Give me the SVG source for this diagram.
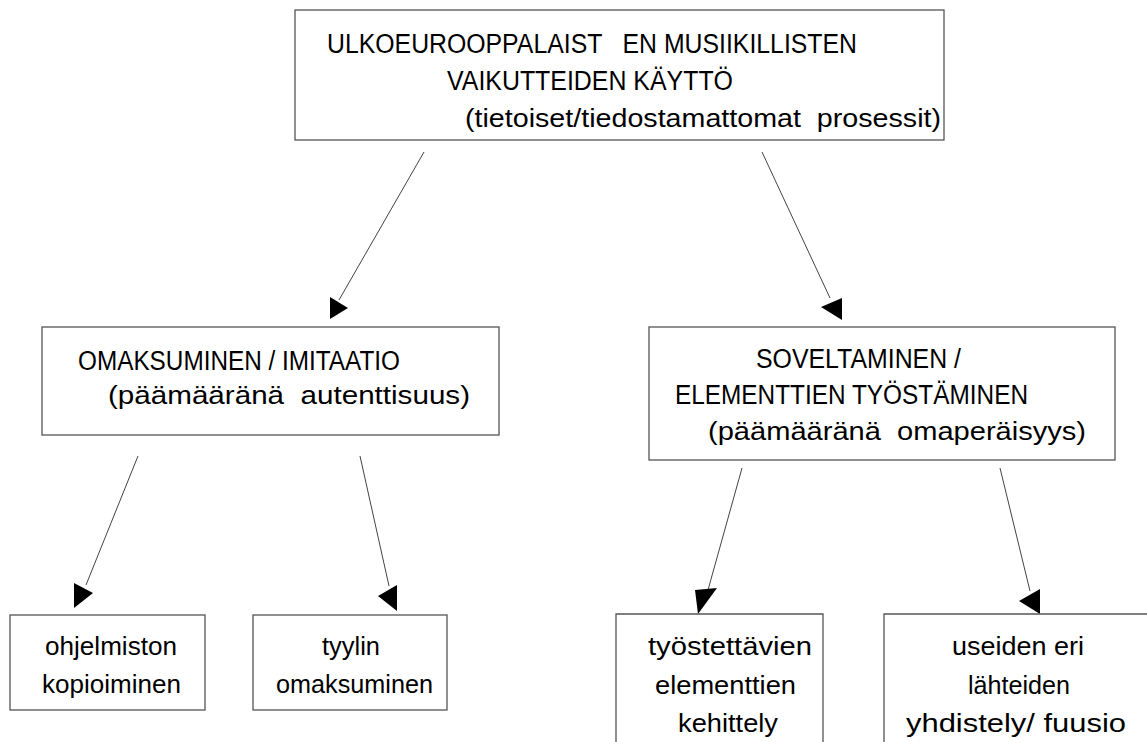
<svg xmlns="http://www.w3.org/2000/svg" width="1147" height="742" viewBox="0 0 1147 742">
<style>
.box{fill:#fff;stroke:#555;stroke-width:1.3}
.t{font-family:"Liberation Sans",Arial,sans-serif;font-size:26px;fill:#000}
.u{font-size:27px}
.ln{stroke:#444;stroke-width:1;fill:none}
.ah{fill:#000;stroke:none}
</style>
<rect width="1147" height="742" fill="#fff"/>
<g id="connectors">
<line class="ln" x1="424" y1="152" x2="339" y2="300"/>
<polygon class="ah" points="330,297 330,319 348,308"/>
<line class="ln" x1="762" y1="152" x2="830" y2="298"/>
<polygon class="ah" points="842,298 842,320 821,307"/>
<line class="ln" x1="138" y1="456" x2="86" y2="585"/>
<polygon class="ah" points="74,583 74,608 93,593"/>
<line class="ln" x1="360" y1="456" x2="389" y2="586"/>
<polygon class="ah" points="397,585 397,611 378,596"/>
<line class="ln" x1="742" y1="468" x2="708" y2="590"/>
<polygon class="ah" points="695,590 698,614 717,588"/>
<line class="ln" x1="1000" y1="468" x2="1030" y2="591"/>
<polygon class="ah" points="1040,589 1040,614 1019,601"/>
</g>
<g id="top">
<rect class="box" x="295" y="10" width="649" height="130"/>
<text class="t u" xml:space="preserve" x="327" y="53" textLength="530" lengthAdjust="spacingAndGlyphs">ULKOEUROOPPALAIST   EN MUSIIKILLISTEN</text>
<text class="t u" x="447" y="90" textLength="286" lengthAdjust="spacingAndGlyphs">VAIKUTTEIDEN KÄYTTÖ</text>
<text class="t" xml:space="preserve" x="465" y="127" textLength="476" lengthAdjust="spacingAndGlyphs">(tietoiset/tiedostamattomat  prosessit)</text>
</g>
<g id="omaksuminen">
<rect class="box" x="42" y="327" width="457" height="108"/>
<text class="t u" x="78" y="370" textLength="322" lengthAdjust="spacingAndGlyphs">OMAKSUMINEN / IMITAATIO</text>
<text class="t" xml:space="preserve" x="108" y="404" textLength="362" lengthAdjust="spacingAndGlyphs">(päämääränä  autenttisuus)</text>
</g>
<g id="soveltaminen">
<rect class="box" x="649" y="327" width="466" height="133"/>
<text class="t u" x="756" y="368" textLength="205" lengthAdjust="spacingAndGlyphs">SOVELTAMINEN /</text>
<text class="t u" x="675" y="404" textLength="353" lengthAdjust="spacingAndGlyphs">ELEMENTTIEN TYÖSTÄMINEN</text>
<text class="t" xml:space="preserve" x="708" y="440" textLength="378" lengthAdjust="spacingAndGlyphs">(päämääränä  omaperäisyys)</text>
</g>
<g id="ohjelmiston">
<rect class="box" x="10" y="615" width="195" height="95"/>
<text class="t" x="45" y="655" textLength="132" lengthAdjust="spacingAndGlyphs">ohjelmiston</text>
<text class="t" x="42" y="693" textLength="139" lengthAdjust="spacingAndGlyphs">kopioiminen</text>
</g>
<g id="tyylin">
<rect class="box" x="253" y="615" width="194" height="95"/>
<text class="t" x="322" y="655" textLength="58" lengthAdjust="spacingAndGlyphs">tyylin</text>
<text class="t" x="276" y="693" textLength="157" lengthAdjust="spacingAndGlyphs">omaksuminen</text>
</g>
<g id="tyostettavien">
<path class="box" d="M616,745 V614 H823 V745"/>
<text class="t" x="648" y="655" textLength="164" lengthAdjust="spacingAndGlyphs">työstettävien</text>
<text class="t" x="655" y="694" textLength="141" lengthAdjust="spacingAndGlyphs">elementtien</text>
<text class="t" x="678" y="732" textLength="100" lengthAdjust="spacingAndGlyphs">kehittely</text>
</g>
<g id="useiden">
<path class="box" d="M884,745 V614 H1160"/>
<text class="t" x="952" y="655" textLength="132" lengthAdjust="spacingAndGlyphs">useiden eri</text>
<text class="t" x="968" y="694" textLength="102" lengthAdjust="spacingAndGlyphs">lähteiden</text>
<text class="t" xml:space="preserve" x="906" y="732" textLength="220" lengthAdjust="spacingAndGlyphs">yhdistely/ fuusio</text>
</g>
</svg>
